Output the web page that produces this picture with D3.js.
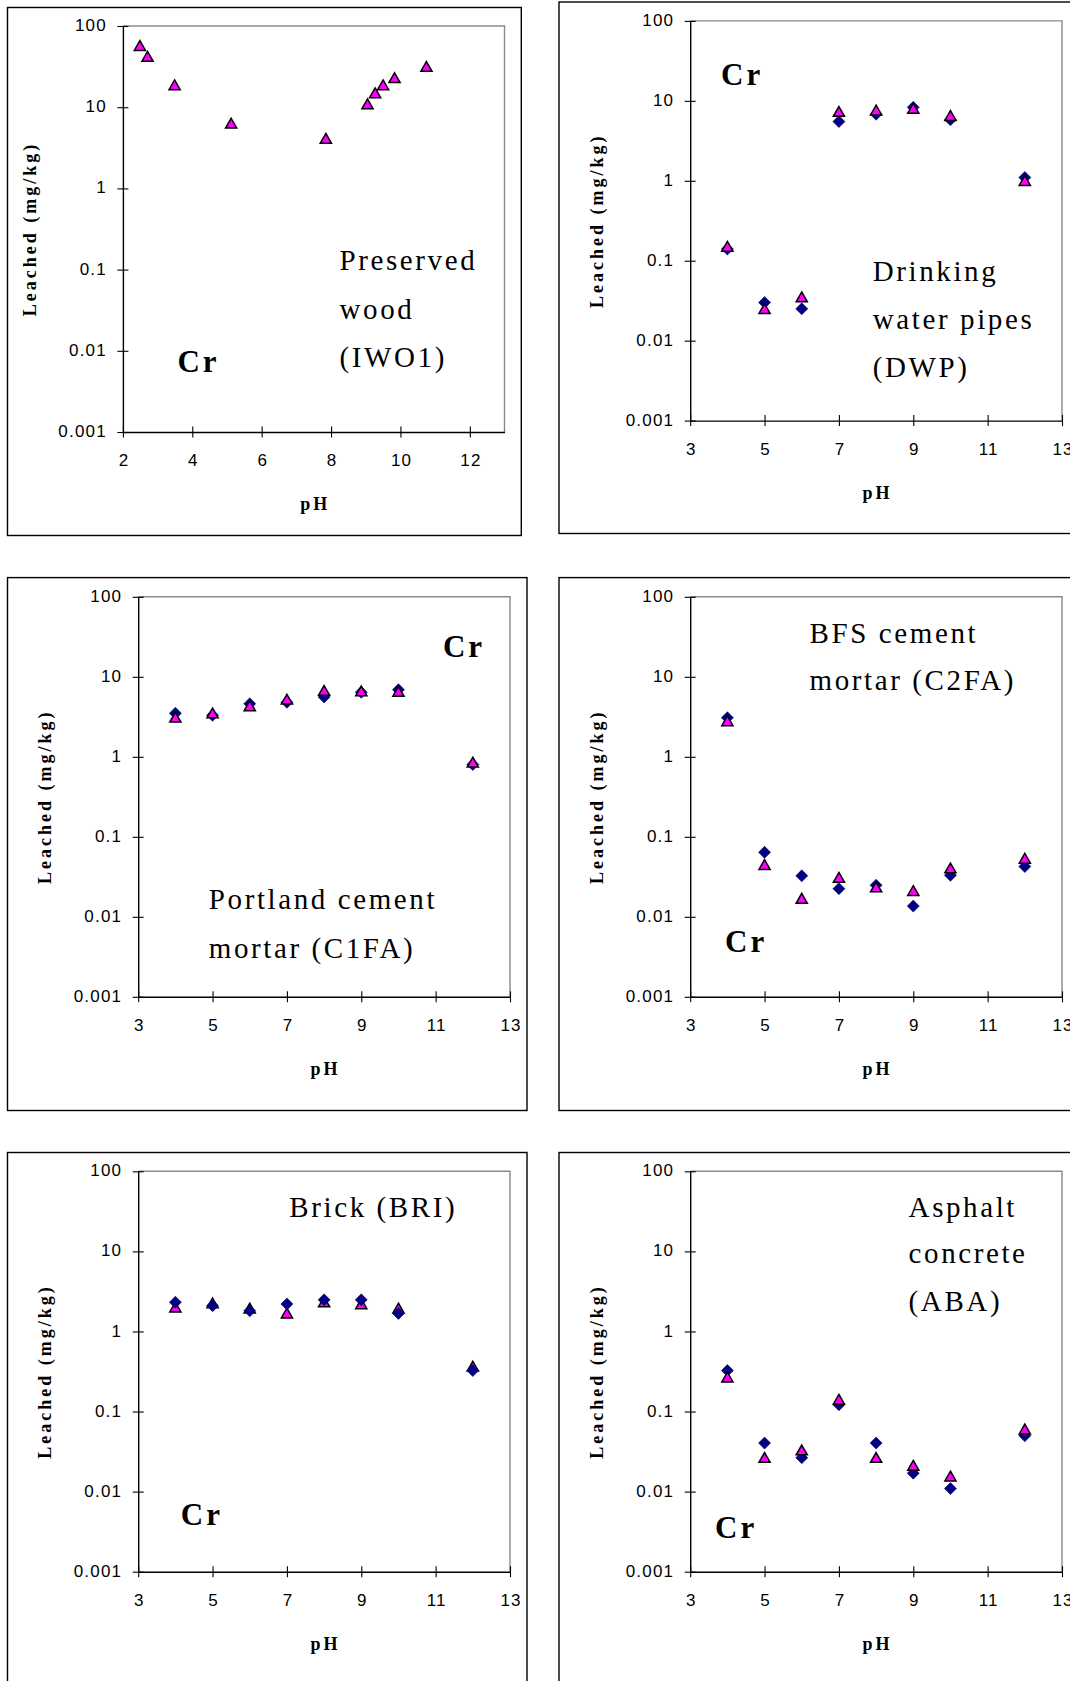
<!DOCTYPE html>
<html>
<head>
<meta charset="utf-8">
<script src="https://cdn.jsdelivr.net/npm/d3@7"></script>
<style>
  html, body { margin: 0; padding: 0; background: #fff; }
  svg { display: block; }
  .tick text { font-family: "Liberation Sans", Arial, sans-serif; font-size: 17px; letter-spacing: 1.2px; fill: #000; }
  .axis-title { font-family: "Liberation Serif", "Times New Roman", serif; font-weight: bold; font-size: 18px; letter-spacing: 3px; fill: #000; }
  .element { font-family: "Liberation Serif", "Times New Roman", serif; font-weight: bold; font-size: 31px; letter-spacing: 3px; fill: #000; }
  .material { font-family: "Liberation Serif", "Times New Roman", serif; font-size: 29px; letter-spacing: 2.6px; fill: #000; }
</style>
</head>
<body>
<svg id="chart" width="1070" height="1681"></svg>
<script>
// ---- Chromium leached (mg/kg) versus pH for six construction materials ----

// pH steps of the pH-static leaching tests
const phSteps = [4, 5, 6, 7, 8, 9, 10, 12];

// Preserved wood (IWO1): one series at its own pH values
const iwoPH = [2.49, 2.71, 3.49, 5.12, 7.85, 9.05, 9.27, 9.50, 9.83, 10.75];
const iwoCr = [57, 42, 18.7, 6.3, 4.1, 10.9, 14.9, 18.7, 22.9, 31.5];

// Drinking water pipes (DWP)
const dwpDiamond  = [0.14, 0.030, 0.025, 5.5, 6.8, 8.3, 5.8, 1.10];
const dwpTriangle = [0.15, 0.025, 0.035, 7.3, 7.6, 8.0, 6.5, 1.00];

// Portland cement mortar (C1FA)
const c1faDiamond  = [3.5, 3.3, 4.6, 4.8, 5.6, 6.4, 6.9, 0.80];
const c1faTriangle = [3.1, 3.5, 4.3, 5.2, 6.7, 6.6, 6.5, 0.85];

// BFS cement mortar (C2FA)
const c2faDiamond  = [3.08, 0.064, 0.0325, 0.0225, 0.0248, 0.0136, 0.0330, 0.0425];
const c2faTriangle = [2.79, 0.0447, 0.0169, 0.0309, 0.0234, 0.0211, 0.0405, 0.0535];

// Brick (BRI)
const briDiamond  = [2.32, 2.10, 1.81, 2.20, 2.48, 2.48, 1.68, 0.325];
const briTriangle = [2.00, 2.25, 1.94, 1.68, 2.32, 2.20, 1.94, 0.365];

// Asphalt concrete (ABA)
const abaDiamond  = [0.325, 0.0404, 0.0265, 0.1216, 0.0404, 0.0170, 0.0109, 0.050];
const abaTriangle = [0.267, 0.0265, 0.0329, 0.141, 0.0265, 0.0211, 0.0155, 0.060];

// Axis ticks
const yTickValues = [0.001, 0.01, 0.1, 1, 10, 100];
const yTickLabels = ["0.001", "0.01", "0.1", "1", "10", "100"];
const xTicksWood = [2, 4, 6, 8, 10, 12];
const xTicksStd  = [3, 5, 7, 9, 11, 13];

// Text
const elementLabel = "Cr";
const yTitle = "Leached (mg/kg)";
const xTitle = "pH";

// ---- layout of the six panels ----
const panels = [
  { frame: [7.5, 7.5, 521.3, 535.5], plot: [122.9, 504.5, 26, 432], xDomain: [2, 13], xTicks: xTicksWood,
    series: [{ x: iwoPH, y: iwoCr, shape: "triangle" }],
    cr: [177.4, 372], lines: ["Preserved", "wood", "(IWO1)"], linesX: 339.5, linesY: [270.4, 319, 366.5] },
  { frame: [559, 2, 1090, 533.5], plot: [690.2, 1062, 20.9, 420.6], xDomain: [3, 13], xTicks: xTicksStd,
    series: [{ x: phSteps, y: dwpDiamond, shape: "diamond" }, { x: phSteps, y: dwpTriangle, shape: "triangle" }],
    cr: [721, 85.2], lines: ["Drinking", "water pipes", "(DWP)"], linesX: 872.8, linesY: [280.5, 328.5, 377] },
  { frame: [7.5, 577.6, 527, 1110.5], plot: [138.2, 510, 596.8, 996.8], xDomain: [3, 13], xTicks: xTicksStd,
    series: [{ x: phSteps, y: c1faDiamond, shape: "diamond" }, { x: phSteps, y: c1faTriangle, shape: "triangle" }],
    cr: [442.9, 656.9], lines: ["Portland cement", "mortar (C1FA)"], linesX: 208.8, linesY: [908.9, 957.6] },
  { frame: [559, 577.6, 1090, 1110.5], plot: [690.2, 1062, 596.8, 996.8], xDomain: [3, 13], xTicks: xTicksStd,
    series: [{ x: phSteps, y: c2faDiamond, shape: "diamond" }, { x: phSteps, y: c2faTriangle, shape: "triangle" }],
    cr: [725, 951.6], lines: ["BFS cement", "mortar (C2FA)"], linesX: 809.6, linesY: [643, 689.9] },
  { frame: [7.5, 1152.5, 527, 1720], plot: [138.2, 510, 1171.3, 1571.7], xDomain: [3, 13], xTicks: xTicksStd,
    series: [{ x: phSteps, y: briTriangle, shape: "triangle" }, { x: phSteps, y: briDiamond, shape: "diamond" }],
    cr: [180.8, 1524.5], lines: ["Brick (BRI)"], linesX: 289.3, linesY: [1216.8] },
  { frame: [559, 1152.5, 1090, 1720], plot: [690.2, 1062, 1171.3, 1571.7], xDomain: [3, 13], xTicks: xTicksStd,
    series: [{ x: phSteps, y: abaDiamond, shape: "diamond" }, { x: phSteps, y: abaTriangle, shape: "triangle" }],
    cr: [715, 1537.5], lines: ["Asphalt", "concrete", "(ABA)"], linesX: 908.6, linesY: [1216.8, 1262.9, 1310.8] }
];

// marker outlines
const diamondPath = "M0,-6L6,0L0,6L-6,0Z";
const trianglePath = "M0,-5.2L5.6,4.6L-5.6,4.6Z";

const svg = d3.select("#chart");

panels.forEach(p => {
  const [fx0, fy0, fx1, fy1] = p.frame;
  const [px0, px1, py0, py1] = p.plot;
  const g = svg.append("g");

  // outer chart frame
  g.append("rect")
    .attr("x", fx0).attr("y", fy0)
    .attr("width", fx1 - fx0).attr("height", fy1 - fy0)
    .attr("fill", "#fff").attr("stroke", "#000").attr("stroke-width", 1.4);

  const x = d3.scaleLinear().domain(p.xDomain).range([px0, px1]);
  const y = d3.scaleLog().domain([0.001, 100]).range([py1, py0]);

  // plot-area border on top and right (grey)
  g.append("path")
    .attr("d", `M${px0},${py0}H${px1}V${py1}`)
    .attr("fill", "none").attr("stroke", "#8a8a8a").attr("stroke-width", 1.4);

  // y axis
  const yAxis = g.append("g")
    .attr("transform", `translate(${px0},0)`)
    .call(d3.axisLeft(y).tickValues(yTickValues)
      .tickFormat((d, i) => yTickLabels[i]).tickSizeOuter(0));
  yAxis.select(".domain").attr("stroke", "#000").attr("stroke-width", 1.4);
  yAxis.selectAll(".tick line").attr("x1", -5.5).attr("x2", 5.5).attr("stroke", "#000").attr("stroke-width", 1.1);
  yAxis.selectAll(".tick text").attr("x", -16).attr("dy", "0.27em");
  yAxis.attr("font-size", null).attr("font-family", null);

  // x axis
  const xAxis = g.append("g")
    .attr("transform", `translate(0,${py1})`)
    .call(d3.axisBottom(x).tickValues(p.xTicks).tickFormat(d3.format("d")).tickSizeOuter(0));
  xAxis.select(".domain").attr("stroke", "#000").attr("stroke-width", 1.4);
  xAxis.selectAll(".tick line").attr("y1", -5.5).attr("y2", 5.5).attr("stroke", "#000").attr("stroke-width", 1.1);
  xAxis.selectAll(".tick text").attr("y", 22).attr("dy", "0.71em").attr("dx", "0.6px");
  xAxis.attr("font-size", null).attr("font-family", null);

  // axis titles
  g.append("text").attr("class", "axis-title")
    .attr("text-anchor", "middle")
    .attr("transform", `translate(${px0 - 87},${(py0 + py1) / 2}) rotate(-90)`)
    .text(yTitle);
  g.append("text").attr("class", "axis-title")
    .attr("text-anchor", "middle")
    .attr("x", (px0 + px1) / 2 + 1.5).attr("y", py1 + 78)
    .text(xTitle);

  // element label and material name
  g.append("text").attr("class", "element")
    .attr("x", p.cr[0]).attr("y", p.cr[1]).text(elementLabel);
  g.selectAll("text.material").data(p.lines).enter()
    .append("text").attr("class", "material")
    .attr("x", p.linesX).attr("y", (d, i) => p.linesY[i])
    .text(d => d);

  // data markers
  p.series.forEach(s => {
    const pts = s.x.map((v, i) => [v, s.y[i]]);
    const marks = g.append("g").selectAll("path").data(pts).enter().append("path")
      .attr("transform", d => `translate(${x(d[0])},${y(d[1])})`);
    if (s.shape === "diamond") {
      marks.attr("d", diamondPath).attr("fill", "#000080").attr("stroke", "#00006a").attr("stroke-width", 0.6);
    } else {
      marks.attr("d", trianglePath).attr("fill", "#ff00ff").attr("stroke", "#000").attr("stroke-width", 1.5)
        .attr("stroke-linejoin", "miter");
    }
  });
});
</script>
</body>
</html>
